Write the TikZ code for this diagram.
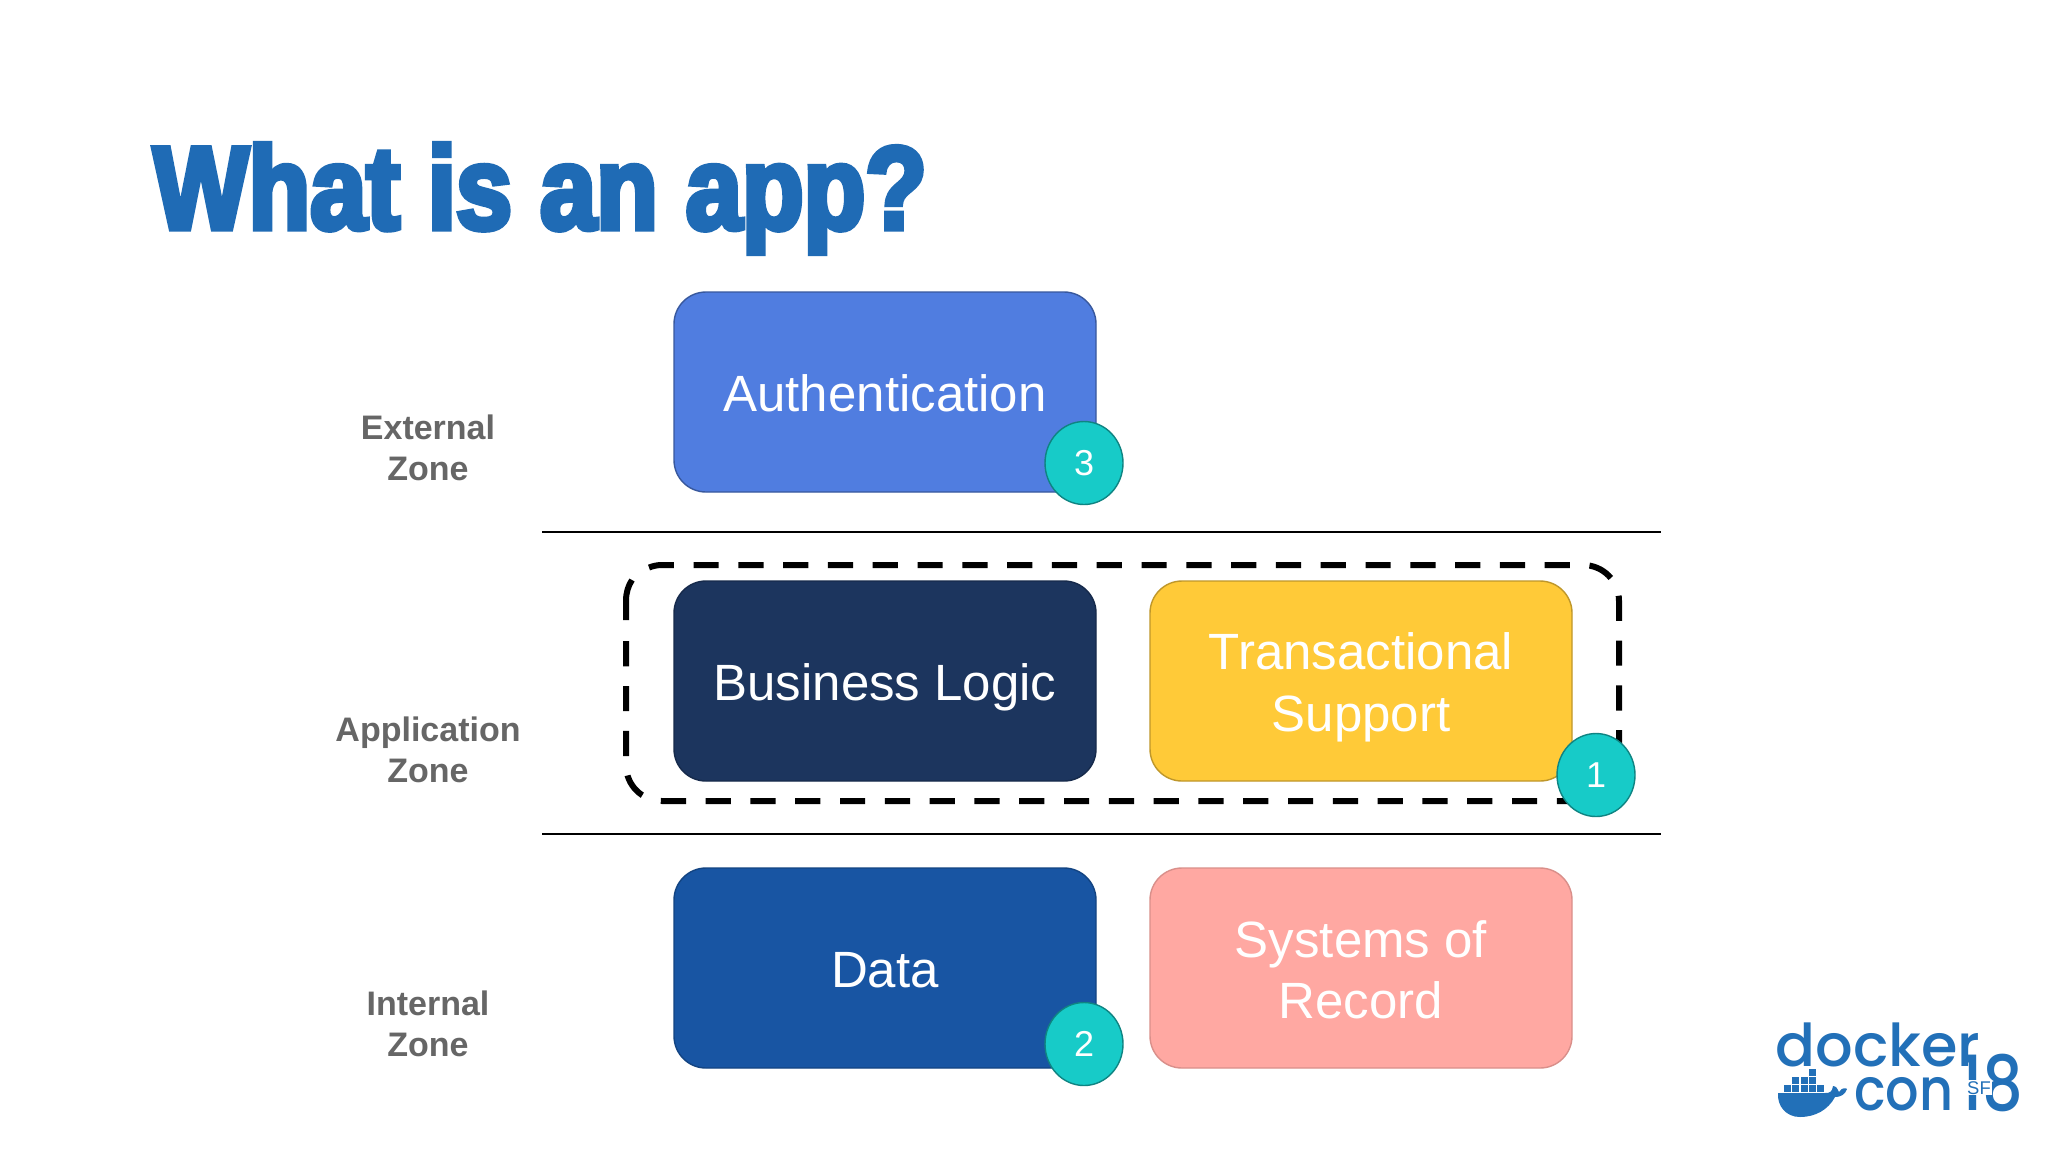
\documentclass[tikz,border=0pt]{standalone}
\usetikzlibrary{shapes.geometric}
\usepackage{fontspec}
\setmainfont{Liberation Sans}
\newfontfamily\titlefont[FakeBold=4.6,FakeStretch=0.855]{Liberation Sans Bold}
\newfontfamily\logofont{Poppins Medium}
\newfontfamily\logoconfont[FakeStretch=0.89]{Poppins Medium}
\newfontfamily\logonumfont[FakeStretch=0.84]{Poppins Medium}
\definecolor{titleblue}{HTML}{1F6BB5}
\definecolor{logoblue}{HTML}{2270B8}
\definecolor{zonegrey}{HTML}{666666}
\definecolor{teal1}{HTML}{17CBC8}
\definecolor{HTMLauth}{HTML}{507DE0}
\definecolor{HTMLbiz}{HTML}{1C355E}
\definecolor{HTMLtx}{HTML}{FFCA38}
\definecolor{HTMLdata}{HTML}{1855A3}
\definecolor{HTMLsor}{HTML}{FFA8A2}
\tikzset{
  x=0.5pt,y=-0.5pt,
  tile/.style={draw,line width=0.7pt,rounded corners=16pt,minimum width=211pt,minimum height=100pt,inner sep=0pt},
  tiletext/.style={inner sep=0pt,align=center,text=white,font=\fontsize{25.5}{30.7}\selectfont},
  badge/.style={ellipse,draw=teal1!65!black,line width=0.7pt,fill=teal1,minimum width=39pt,minimum height=41.5pt,inner sep=0pt,text=white,font=\fontsize{18}{20}\selectfont},
  zonelabel/.style={align=center,text=zonegrey,inner sep=0pt,font=\fontsize{17}{20.3}\selectfont\bfseries},
  divider/.style={line width=1pt,black},
  groupsolid/.style={draw=black,line width=3pt},
  grouping/.style={groupsolid,dash pattern=on 12.6pt off 9.8pt},
  crate/.style={fill=logoblue},
}
\begin{document}
\begin{tikzpicture}
\useasboundingbox[fill=white] (0,0) rectangle (2048,1152);
\node[anchor=base west,inner sep=0pt,text=titleblue,font=\titlefont\fontsize{59}{61}\selectfont] (title) at (153,229) {What is an app?};
% dividers
\coordinate (d1a) at (542,532); \coordinate (d1b) at (1661,532);
\coordinate (d2a) at (542,834); \coordinate (d2b) at (1661,834);
\draw[divider] (d1a) -- (d1b);
\draw[divider] (d2a) -- (d2b);
% dashed group: bottom and left side
\draw[grouping] (1582,801) -- (662,801) .. controls (642,801) and (626,785) .. (626,765) -- (626,640);
\draw[groupsolid] (626,620) -- (626,601) .. controls (626,593) and (628,586) .. (632,580);
% dashed group: top and right side
\draw[grouping] (649,567.5) .. controls (653,566) and (657,565) .. (662,565) -- (1583,565)
  .. controls (1603,565) and (1619,581) .. (1619,601) -- (1619,790);
% tiles
\node[tile,fill=HTMLauth,draw=HTMLauth!70!black] (auth) at (885,392) {};
\node[tile,fill=HTMLbiz,draw=HTMLbiz!80!black] (biz) at (885,681) {};
\node[tile,fill=HTMLtx,draw=HTMLtx!75!black] (tx) at (1361,681) {};
\node[tile,fill=HTMLdata,draw=HTMLdata!80!black] (data) at (885,968) {};
\node[tile,fill=HTMLsor,draw=HTMLsor!85!black] (sor) at (1361,968) {};
\node[tiletext] (authT) at ([yshift=-0.7pt]auth.center) {Authentication};
\node[tiletext] (bizT) at ([yshift=-3.2pt]biz.center) {Business Logic};
\node[tiletext] (txT) at ([yshift=-3.2pt]tx.center) {Transactional\\Support};
\node[tiletext] (dataT) at ([yshift=-1.3pt]data.center) {Data};
\node[tiletext] (sorT) at ([yshift=-0.8pt]sor.center) {Systems of\\Record};
% badges
\node[badge] (b3) at (1084,463) {3};
\node[badge] (b1) at (1596,775) {1};
\node[badge] (b2) at (1084,1044) {2};
% zones
\node[zonelabel] (ext) at (428,448) {External\\Zone};
\node[zonelabel] (app) at (428,750) {Application\\Zone};
\node[zonelabel] (int) at (428,1024) {Internal\\Zone};
% logo
\node[anchor=base west,inner sep=0pt,text=logoblue,font=\logofont\fontsize{29.5}{30}\selectfont] (ld) at (1775,1066) {docker};
\node[anchor=base west,inner sep=0pt,text=logoblue,font=\logoconfont\fontsize{29.5}{30}\selectfont] (lc) at (1854,1110) {con};
\node[anchor=base west,inner sep=0pt,text=logoblue,font=\logonumfont\fontsize{38}{38}\selectfont] (l18) at (1960,1110) {18};
\node[anchor=base west,inner sep=0.4pt,fill=white,text=logoblue,font=\fontsize{9.2}{9}\selectfont] (lsf) at (1966,1094) {SF};
% whale
\fill[logoblue] (1778,1093) -- (1825,1093) .. controls (1830,1093) and (1832,1092) .. (1833,1086)
  .. controls (1836,1086) and (1838,1089) .. (1839,1092)
  .. controls (1842,1087) and (1846,1088) .. (1847,1089)
  .. controls (1845,1095) and (1840,1097) .. (1835,1097)
  .. controls (1828,1110) and (1815,1117) .. (1800,1117)
  .. controls (1786,1117) and (1777,1106) .. cycle;
\foreach \cx in {1784,1792.3,1800.6,1808.9,1817.2} \fill[crate] (\cx,1085) rectangle +(7,7);
\foreach \cx in {1792.3,1800.6,1808.9} \fill[crate] (\cx,1077) rectangle +(7,7);
\fill[crate] (1808.9,1069) rectangle +(7,7);
\end{tikzpicture}
\end{document}
